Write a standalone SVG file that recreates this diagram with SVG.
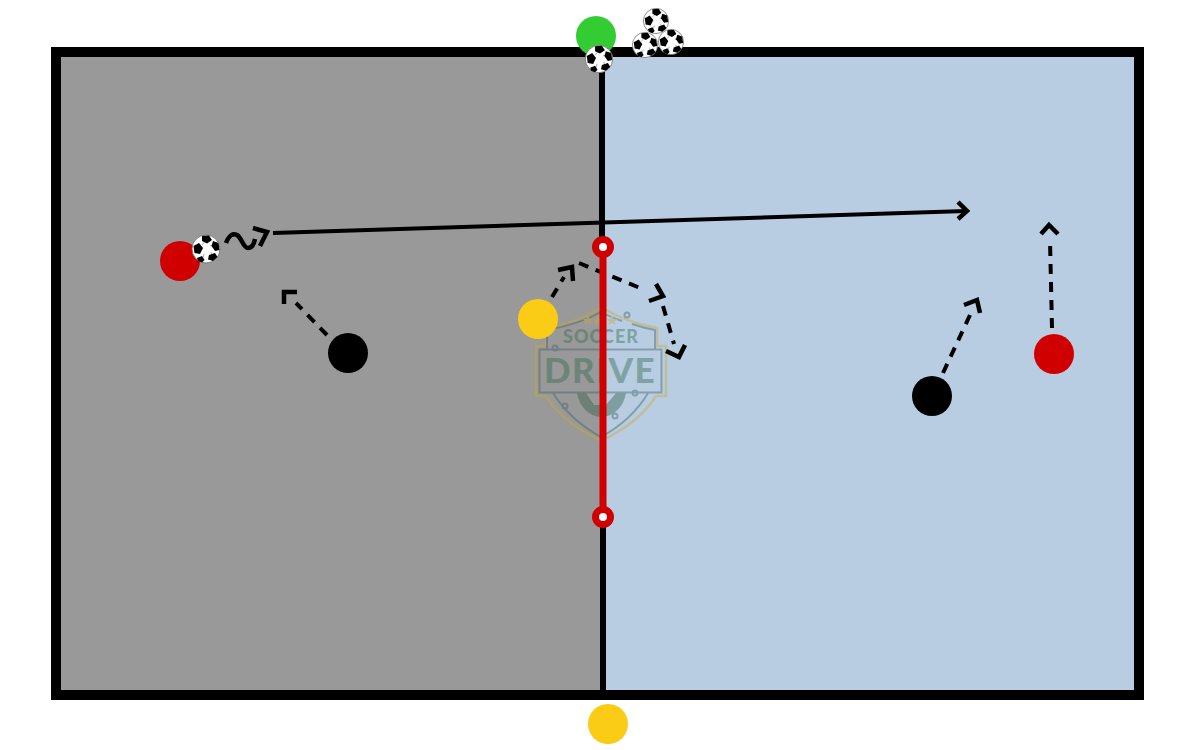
<svg xmlns="http://www.w3.org/2000/svg" xmlns:xlink="http://www.w3.org/1999/xlink" width="1200" height="750" viewBox="0 0 1200 750">
<style>
.dash{fill:none;stroke:#000;stroke-width:4;stroke-dasharray:10 8}
.head{fill:none;stroke:#000;stroke-width:4.500}
.solid{fill:none;stroke:#000;stroke-width:4}
.logo-l{fill:none;stroke:#3f5f62;stroke-width:2}
.star{fill:#c9a93a}
.lt{font-family:Lato,"Liberation Sans",sans-serif;font-weight:900;fill:#2f6a4c;text-anchor:middle}
</style>
<defs>
<g id="ball">
<circle r="14" fill="#fff" stroke="#666" stroke-width="0.8"/>
<g fill="none" stroke="#777" stroke-width="0.6"><path d="M-4 -4L0 -9M4 -3L8 -5M5 3L6 7M-2 5L-3 9M-5 0L-8 -1"/></g>
<polygon points="-4,-13 3,-13.500 6,-9 1,-5.500 -4,-8" fill="#000"/>
<polygon points="7,-8 12.500,-6 13.500,1 9,2 5.500,-3" fill="#000"/>
<polygon points="-12.500,-3 -7,-6 -3,-1 -6,5 -11.500,4" fill="#000"/>
<polygon points="3,6 9,4 11.500,8 7,12 2,10.500" fill="#000"/>
<polygon points="-9,9 -4,7 -1.500,11 -4,13.500 -8,12" fill="#000"/>
</g>
</defs>
<rect width="1200" height="750" fill="#fff"/>
<g id="field">
<rect x="56" y="52" width="547" height="643" fill="#999"/>
<rect x="603" y="52" width="536" height="643" fill="#b8cde2"/>
<path d="M602 52V240M603 510V695" stroke="#000" stroke-width="6" fill="none"/>
<rect x="56" y="52" width="1083" height="643" fill="none" stroke="#000" stroke-width="10"/>
</g>
<g id="logo" opacity="0.42">
<path d="M536 396V346H546V328Q580 322 601 307Q625 322 657 328V346H666V396H656Q640 422 601 441Q562 422 546 396Z" fill="none" stroke="#c9a93a" stroke-width="2.500"/>
<path d="M547 349V330Q580 324 601 312Q608 316 622 321M632 324Q644 328 655 330V349" class="logo-l"/>
<rect x="539.500" y="349.500" width="122" height="43" class="logo-l"/>
<path d="M553 393Q570 420 601 437Q632 420 648 393" class="logo-l"/>
<circle cx="555" cy="348" r="2.500" class="logo-l"/>
<circle cx="627" cy="315" r="2.500" class="logo-l"/>
<circle cx="635" cy="393" r="2.500" class="logo-l"/>
<circle cx="565" cy="406" r="2.500" class="logo-l"/>
<circle cx="615" cy="416" r="2.500" class="logo-l"/>
<path d="M577 393A25 30 0 0 0 626 393H616L606 405L594 405L586 393Z" fill="#2f5f45"/>
<polygon class="star" points="588,315 589.500,319 593.500,319 590.500,321.500 591.500,325 588,323 584.500,325 585.500,321.500 582.500,319 586.500,319"/>
<polygon class="star" points="598,315 599.500,319 603.500,319 600.500,321.500 601.500,325 598,323 594.500,325 595.500,321.500 592.500,319 596.500,319"/>
<polygon class="star" points="612,315 613.500,319 617.500,319 614.500,321.500 615.500,325 612,323 608.500,325 609.500,321.500 606.500,319 610.500,319"/>
<text x="601" y="343" class="lt" font-size="18" letter-spacing="1">SOCCER</text>
<text x="600" y="383" class="lt" font-size="35" letter-spacing="1.500">DRIVE</text>
</g>
<g id="connectors">
<path class="solid" d="M273 233L966 211"/>
<path class="head" d="M958 202L967 211L958 219"/>
<path class="head" d="M226 243C229 235 233 233 237 235C242 238 243 248 248 248C252 248 254 244 255 239"/>
<path class="head" d="M253 228L267 232L260 246"/>
<path class="dash" d="M327 335L296 303"/>
<path class="head" d="M284 304V292H297"/>
<path class="dash" d="M552 297L564 277"/>
<path class="head" d="M558 270L572 267L573 281"/>
<path class="dash" d="M579 263L645 290"/>
<path class="head" d="M656 284L663 296L649 301"/>
<path class="dash" d="M663 306L674 344"/>
<path class="head" d="M666 351L679 357L685 345"/>
<path class="dash" d="M943 373L970 315"/>
<path class="head" d="M964 305L977 300L980 313"/>
<path class="dash" d="M1052 328L1050 240"/>
<path class="head" d="M1041 234L1049 225L1058 234"/>
</g>
<g id="red-line">
<path d="M603 247V517" stroke="#d00000" stroke-width="7" fill="none"/>
<circle cx="603" cy="247" r="7.500" fill="#fff" stroke="#d00000" stroke-width="7"/>
<circle cx="603" cy="517" r="7.500" fill="#fff" stroke="#d00000" stroke-width="7"/>
</g>
<g id="green-player"><circle cx="596" cy="36" r="20" fill="#33cc33"/></g>
<g id="yellow-player-bottom"><circle cx="608" cy="724" r="20" fill="#facc15"/></g>
<g id="yellow-player"><circle cx="538" cy="319" r="20" fill="#facc15"/></g>
<g id="red-player-left"><circle cx="180" cy="261" r="20" fill="#d00000"/></g>
<g id="red-player-right"><circle cx="1054" cy="354" r="20" fill="#d00000"/></g>
<g id="black-player-left"><circle cx="348" cy="353" r="20" fill="#000"/></g>
<g id="black-player-right"><circle cx="932" cy="396" r="20" fill="#000"/></g>
<g id="balls">
<use xlink:href="#ball" href="#ball" transform="translate(206 249)"/>
<use xlink:href="#ball" href="#ball" transform="translate(599 59) scale(.98)"/>
<use xlink:href="#ball" href="#ball" transform="translate(656 21) scale(.9)"/>
<use xlink:href="#ball" href="#ball" transform="translate(645 45) scale(.9)"/>
<use xlink:href="#ball" href="#ball" transform="translate(671 42) scale(.9)"/>
</g>
</svg>
